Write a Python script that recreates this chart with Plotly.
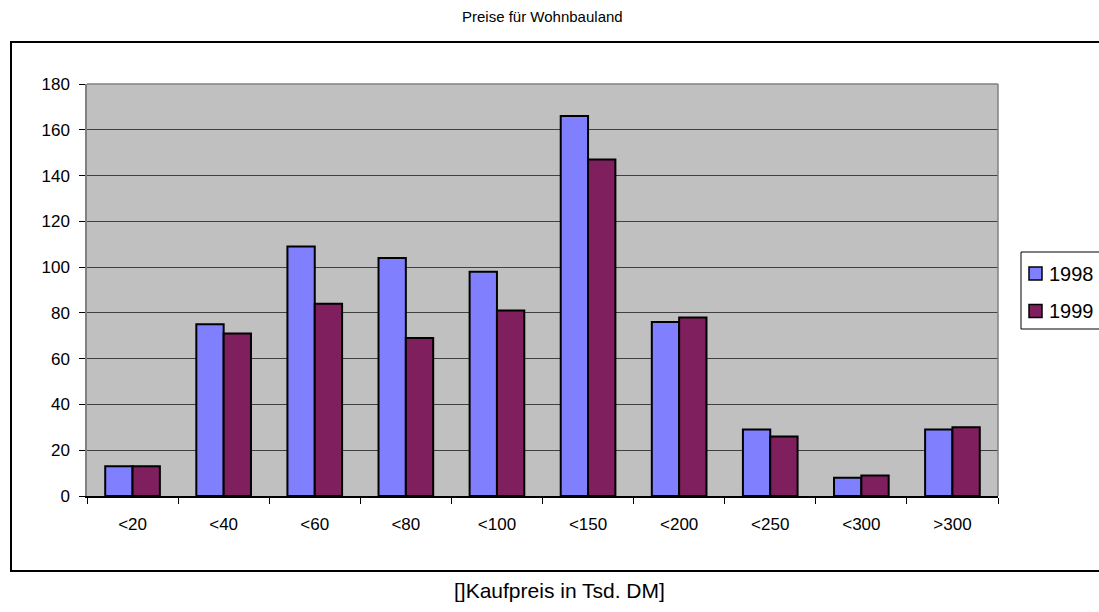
import plotly.graph_objects as go

categories = ["<20", "<40", "<60", "<80", "<100", "<150", "<200", "<250", "<300", ">300"]
values_1998 = [13, 75, 109, 104, 98, 166, 76, 29, 8, 29]
values_1999 = [13, 71, 84, 69, 81, 147, 78, 26, 9, 30]
series_names = ["1998", "1999"]
series_colors = ["#8080FF", "#801F5E"]
y_ticks = [0, 20, 40, 60, 80, 100, 120, 140, 160, 180]
title_text = "Preise für Wohnbauland"
xaxis_title = "[]Kaufpreis in Tsd. DM]"

W, H = 1099, 612
L, R, T, B = 87, 998, 84, 496
pw, ph = R - L, B - T

def px_x(x):
    return (x - L) / pw

def px_y(y):
    return (B - y) / ph

FONT = "Liberation Sans, Arial, sans-serif"

fig = go.Figure()
for name, vals, col in zip(series_names, [values_1998, values_1999], series_colors):
    fig.add_trace(go.Bar(x=categories, y=vals, name=name,
                         marker=dict(color=col, line=dict(color="black", width=2))))

shapes = [
    dict(type="rect", xref="paper", yref="paper",
         x0=px_x(11), x1=px_x(1120), y0=px_y(571), y1=px_y(42),
         line=dict(color="black", width=2), layer="below"),
    dict(type="line", xref="paper", yref="paper", x0=0, x1=1, y0=1, y1=1,
         line=dict(color="#808080", width=1.5)),
    dict(type="line", xref="paper", yref="paper", x0=1, x1=1, y0=0, y1=1,
         line=dict(color="#808080", width=1.5)),
    dict(type="rect", xref="paper", yref="paper",
         x0=px_x(1021), x1=px_x(1120), y0=px_y(329), y1=px_y(252),
         line=dict(color="black", width=1), fillcolor="white", layer="below"),
]
annotations = [
    dict(text=title_text, xref="paper", yref="paper", x=0.5, y=px_y(17),
         xanchor="center", yanchor="middle", showarrow=False, font=dict(size=15)),
    dict(text=xaxis_title, xref="paper", yref="paper", x=px_x(559), y=px_y(590),
         xanchor="center", yanchor="middle", showarrow=False, font=dict(size=21)),
]
# custom legend (its box runs off the right edge, as in the reference)
for i, (name, col) in enumerate(zip(series_names, series_colors)):
    cy = 273.5 + i * 37.5
    shapes.append(dict(type="rect", xref="paper", yref="paper",
                       x0=px_x(1029), x1=px_x(1042), y0=px_y(cy + 6.5), y1=px_y(cy - 6.5),
                       fillcolor=col, line=dict(color="black", width=1.5)))
    annotations.append(dict(text=name, xref="paper", yref="paper",
                            x=px_x(1047), y=px_y(cy), xanchor="left", yanchor="middle",
                            showarrow=False, font=dict(size=20)))

fig.update_layout(
    width=W, height=H,
    margin=dict(l=L, r=W - R, t=T, b=H - B, pad=0),
    paper_bgcolor="white", plot_bgcolor="#C0C0C0",
    font=dict(family=FONT, size=17, color="black"),
    bargap=0.4, bargroupgap=0,
    showlegend=False,
    xaxis=dict(type="category", showgrid=False, tickson="boundaries",
               ticks="outside", ticklen=6, tickcolor="black", tickwidth=1,
               showline=True, linecolor="black", linewidth=1.5,
               ticklabelstandoff=12, zeroline=False),
    yaxis=dict(range=[0, 180], tickvals=y_ticks, showgrid=True,
               gridcolor="#404040", gridwidth=1,
               ticks="outside", ticklen=6, tickcolor="black", tickwidth=1,
               showline=True, linecolor="#808080", linewidth=1.5,
               ticklabelstandoff=6, zeroline=False),
    shapes=shapes,
    annotations=annotations,
)

fig.write_html("out.html",
               config={"displayModeBar": False},
               post_script="document.body.style.margin='0';document.body.style.overflow='hidden';")
